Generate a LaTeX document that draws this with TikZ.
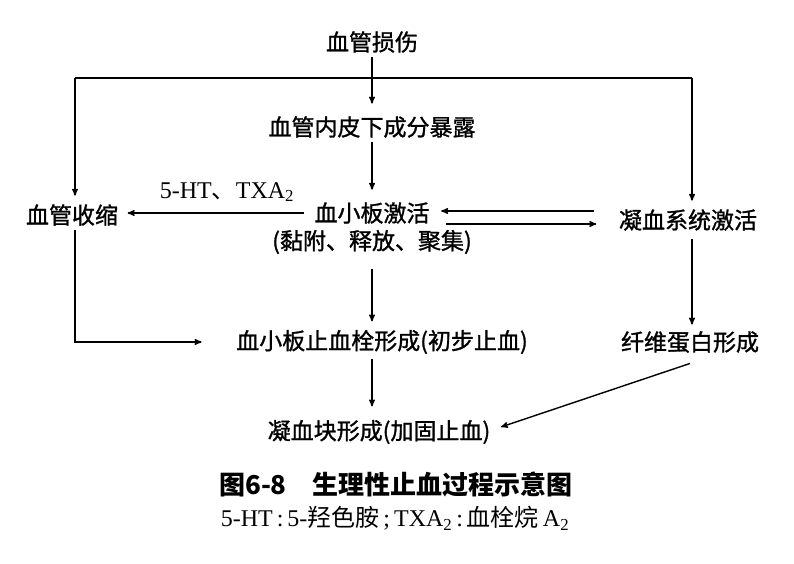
\documentclass[tikz,border=0pt]{standalone}
\usepackage{fontspec}
\setmainfont{Liberation Serif}
\newfontfamily\cjk[FakeBold=1.2]{Noto Sans CJK SC}
\newfontfamily\cjkn{Noto Sans CJK SC}
\usepackage{tikz}
\usetikzlibrary{shapes,arrows}

\begin{document}
\begin{tikzpicture}[x=1pt,y=-1pt,>=stealth',line width=1.4pt,
  txt/.style={inner sep=4pt,font=\cjk\fontsize{23}{27}\selectfont}]
\useasboundingbox (0,0) rectangle (794,564);
\node[txt] (hurt) at (372,42) {血管损伤};
\node[txt] (expo) at (372,127) {血管内皮下成分暴露};
\node[txt] (plt) at (372,213) {血小板激活};
\node[txt] (pltsub) at (372,242) {(黏附、释放、聚集)};
\node[txt] (vc) at (72,215) {血管收缩};
\node[txt] (coag) at (688,220) {凝血系统激活};
\node[txt] (plug) at (382,342) {血小板止血栓形成(初步止血)};
\node[txt] (fib) at (690,342) {纤维蛋白形成};
\node[txt] (clot) at (379,432) {凝血块形成(加固止血)};
\node[font=\fontsize{24}{28}\selectfont] (lbl) at (227,192) {5-HT{\cjkn 、}TXA\textsubscript{2}};
\node[font=\cjkn\bfseries\fontsize{26}{30}\selectfont] (cap) at (396,484) {图6-8\hspace{1em}生理性止血过程示意图};
\node[font=\fontsize{24}{28}\selectfont] (note) at (395,518) {5-HT\,:\,5-{\cjkn 羟色胺}\,;\,TXA\textsubscript{2}\,:\,{\cjkn 血栓烷}\,A\textsubscript{2}};
\coordinate (lt) at (75,78);
\coordinate (rt) at (692,78);
\draw[->,shorten >=8pt] (hurt) -- (expo);
\draw (lt) -- (rt);
\draw[->,shorten >=4pt] (lt) -- (lt |- vc.north);
\draw[->,shorten >=4pt] (rt) -- (rt |- coag.north);
\draw[->,shorten >=8pt] (expo) -- (plt);
\draw[->,shorten <=6pt,shorten >=5pt] (plt.west) -- (plt.west -| vc.east);
\draw[->,shorten <=20pt,shorten >=7pt] ([yshift=9pt]coag.west) -- ([yshift=9pt]coag.west -| plt.east);
\draw[->,shorten <=12pt,shorten >=18pt] ([yshift=-4pt]coag.west -| plt.east) -- ([yshift=-4pt]coag.west);
\draw[->,shorten >=30pt] (vc.south -| lt) |- (plug.west);
\draw[->,shorten <=10pt,shorten >=4pt] (pltsub.south -| plt) -- (plug.north -| plt);
\draw[->,shorten <=4pt,shorten >=2pt] (coag.south -| rt) -- (fib.north -| rt);
\draw[->,shorten >=9pt] (plug.south -| plt) -- (clot.north -| plt);
\draw[->] ([yshift=-6pt]fib.south) -- ([xshift=6pt,yshift=5pt]clot.east);
\end{tikzpicture}
\end{document}
